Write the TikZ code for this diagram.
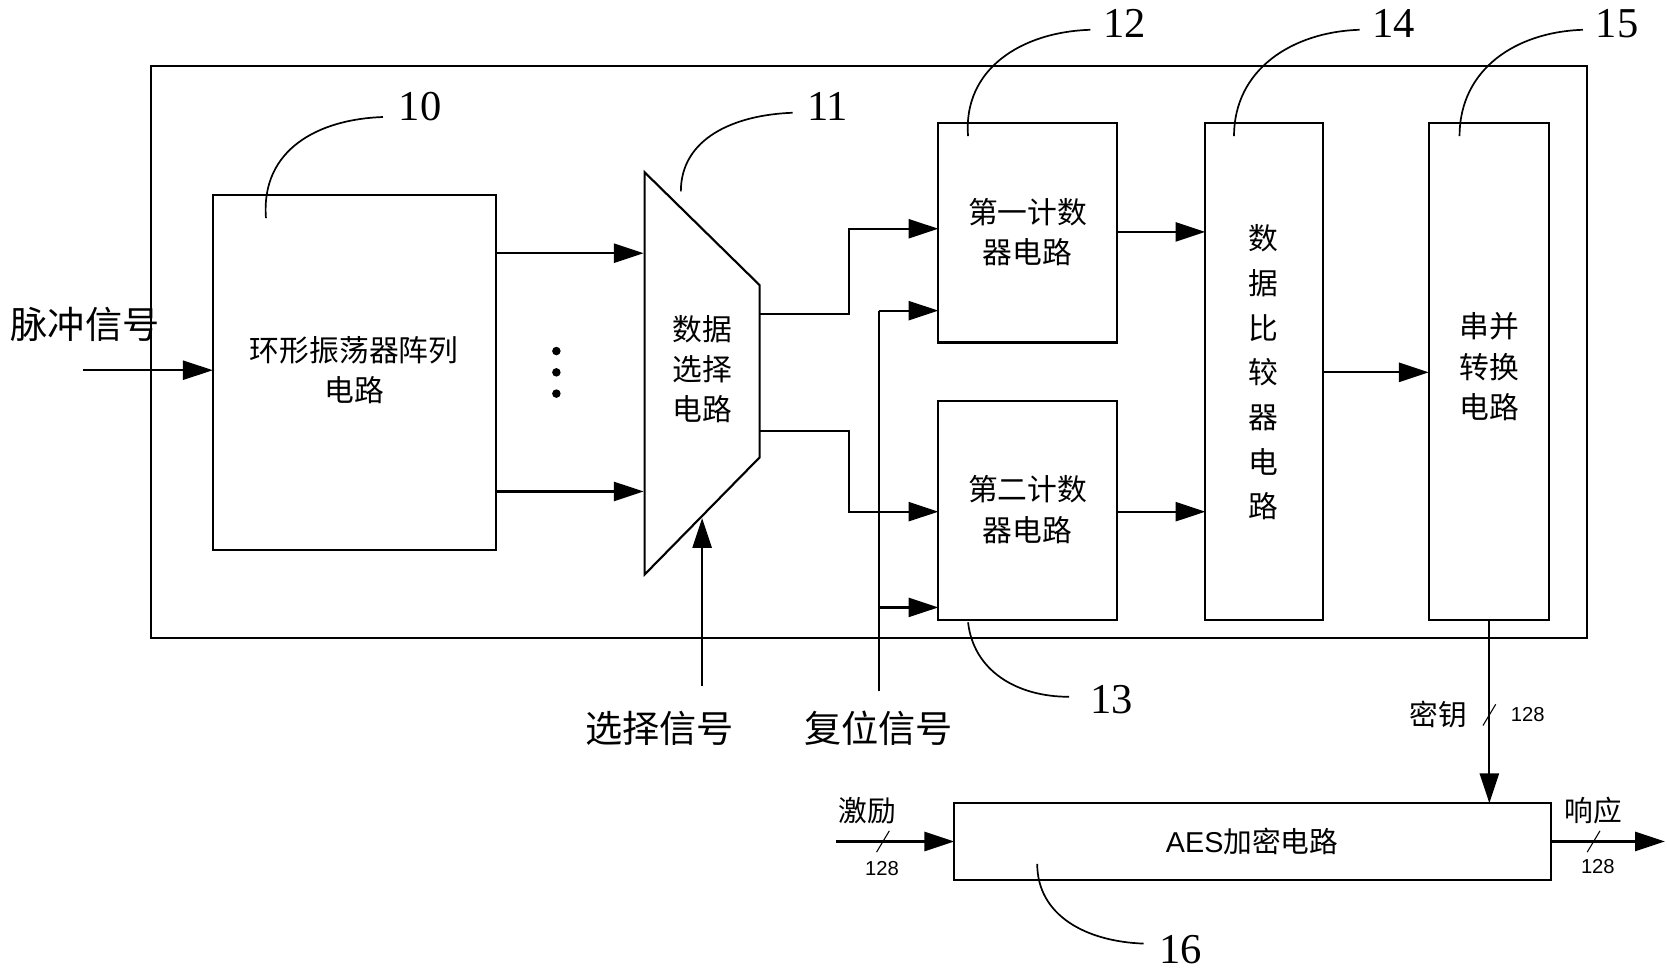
\documentclass[tikz,border=0pt]{standalone}
\usepackage{fontspec}
\setmainfont{Liberation Serif}
\newfontfamily\cjk{Noto Sans CJK SC}
\newfontfamily\sansf{Liberation Sans}
\usetikzlibrary{arrows.meta}
\begin{document}
\begin{tikzpicture}[x=1pt,y=-1pt,line width=2pt,
  arr/.style={-{Triangle[length=28pt,width=18pt]}},
  box/.style={draw,fill=white},
  bt/.style={font=\cjk\fontsize{28}{38}\selectfont,align=center},
  big/.style={font=\cjk\fontsize{35}{40}\selectfont},
  num/.style={font=\fontsize{40}{44}\selectfont},
  sm/.style={font=\sansf\fontsize{19}{22}\selectfont},
  lead/.style={line width=1.6pt}]
\useasboundingbox (0,0) rectangle (1567,915);
\draw (142,62) rectangle (1492,600);
% ring oscillator
\draw[box] (200,183) rectangle (466,517);
\node[bt] (ro) at (333,348) {环形振荡器阵列\\电路};
\coordinate (roin) at (200,348);
\coordinate (pin) at (78,348);
\draw[arr] (pin) -- (roin);
\node[big] (pulse) at (80,305) {脉冲信号};
\node[num] (n10) at (395,100) {10};
\coordinate (r10) at (250,205);
\draw[lead] (r10) .. controls (245,140) and (300,112) .. (360,110);
\coordinate (o1a) at (466,238); \coordinate (o1b) at (605,238);
\coordinate (o2a) at (466,462); \coordinate (o2b) at (605,462);
\draw[arr] (o1a) -- (o1b);
\draw[arr] (o2a) -- (o2b);
\foreach \y in {330,350,370} \fill (523,\y) circle (4pt);
% mux
\draw (606,162) -- (714,268) -- (714,430) -- (606,540) -- cycle;
\node[bt] (mux) at (660,347) {数据\\选择\\电路};
\node[num] (n11) at (778,100) {11};
\draw[lead] (640,180) .. controls (640,130) and (690,108) .. (745,106);
\coordinate (selb) at (660,645); \coordinate (selt) at (660,487);
\draw[arr] (selb) -- (selt);
\node[big] (sel) at (620,685) {选择信号};
% counters
\draw[box] (882,116) rectangle (1050,322);
\node[bt] (c1) at (966,218) {第一计数\\器电路};
\draw[box] (882,377) rectangle (1050,583);
\node[bt] (c2) at (966,479) {第二计数\\器电路};
\node[num] (n12) at (1057,22) {12};
\draw[lead] (910,128) .. controls (905,65) and (960,30) .. (1025,28);
\node[num] (n13) at (1045,658) {13};
\draw[lead] (910,585) .. controls (915,630) and (955,655) .. (1005,655);
\draw[arr] (714,295) -- (798,295) -- (798,215) -- (882,215);
\draw[arr] (714,405) -- (798,405) -- (798,481) -- (882,481);
\draw (826,650) -- (826,292);
\draw[arr] (826,292) -- (882,292);
\draw[arr] (826,571) -- (882,571);
\node[big] (rst) at (826,685) {复位信号};
% comparator
\draw[box] (1133,116) rectangle (1244,583);
\node[font=\cjk\fontsize{28}{42}\selectfont,align=center] (cmp) at (1188,350) {数\\据\\比\\较\\器\\电\\路};
\draw[arr] (1050,218) -- (1133,218);
\draw[arr] (1050,481) -- (1133,481);
\node[num] (n14) at (1310,22) {14};
\draw[lead] (1160,128) .. controls (1160,65) and (1215,30) .. (1278,28);
% S/P
\draw[box] (1343,116) rectangle (1456,583);
\node[bt] (sp) at (1400,345) {串并\\转换\\电路};
\draw[arr] (1244,350) -- (1343,350);
\node[num] (n15) at (1520,22) {15};
\draw[lead] (1372,128) .. controls (1372,65) and (1425,30) .. (1488,28);
% AES
\draw[box] (897,755) rectangle (1458,827);
\node[font=\sansf\fontsize{27}{30}\selectfont] (aes) at (1177,791) {AES{\cjk 加密电路}};
\draw[arr] (1400,583) -- (1400,755);
\node[font=\cjk\fontsize{27}{30}\selectfont] (key) at (1352,672) {密钥};
\draw[line width=1pt] (1394,682) -- (1406,662);
\node[sm] (k128) at (1436,672) {128};
\draw[arr] (786,791) -- (897,791);
\draw[line width=1pt] (824,801) -- (836,781);
\node[font=\cjk\fontsize{27}{30}\selectfont] (exc) at (815,762) {激励};
\node[sm] (e128) at (829,816) {128};
\draw[arr] (1458,791) -- (1565,791);
\draw[line width=1pt] (1492,801) -- (1504,781);
\node[font=\cjk\fontsize{27}{30}\selectfont] (resp) at (1498,762) {响应};
\node[sm] (r128) at (1502,815) {128};
\node[num] (n16) at (1110,893) {16};
\draw[lead] (975,812) .. controls (975,860) and (1020,885) .. (1075,887);
\end{tikzpicture}
\end{document}
